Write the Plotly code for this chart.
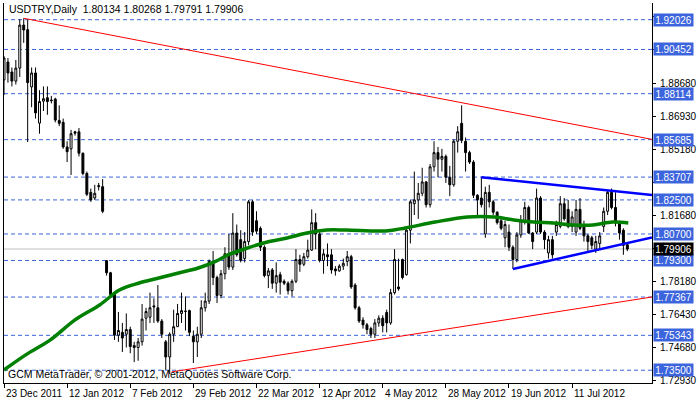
import plotly.graph_objects as go

opens = [1.8884,1.8979,1.8926,1.8878,1.8947,1.9174,1.9150,1.8847,1.8921,1.8656,
1.8772,1.8790,1.8778,1.8783,1.8670,1.8660,1.8530,1.8520,1.8610,1.8610,
1.8497,1.8390,1.8290,1.8260,1.8320,1.8320,1.7929,1.7865,1.7755,1.7535,
1.7550,1.7540,1.7565,1.7480,1.7470,1.7500,1.7625,1.7630,1.7690,1.7680,
1.7610,1.7500,1.7420,1.7540,1.7580,1.7650,1.7660,1.7665,1.7530,1.7500,
1.7540,1.7680,1.7715,1.7925,1.7840,1.7745,1.7860,1.7965,1.7895,1.8075,
1.8040,1.7940,1.8030,1.8240,1.8140,1.8100,1.8000,1.7850,1.7880,1.7810,
1.7855,1.7820,1.7810,1.7770,1.7820,1.7935,1.7910,1.7950,1.7985,1.8130,
1.8070,1.7930,1.7960,1.7960,1.7885,1.7875,1.7900,1.7925,1.7950,1.7800,
1.7680,1.7615,1.7590,1.7570,1.7540,1.7600,1.7625,1.7655,1.7600,1.7760,
1.7790,1.7935,1.7855,1.8090,1.8230,1.8250,1.8285,1.8345,1.8225,1.8425,
1.8500,1.8465,1.8480,1.8370,1.8330,1.8560,1.8655,1.8560,1.8500,1.8450,
1.8275,1.8260,1.8070,1.8290,1.8240,1.8185,1.8140,1.8050,1.8080,1.8000,
1.7935,1.8065,1.8140,1.8210,1.8075,1.8080,1.8260,1.8080,1.7970,1.8040,
1.8080,1.8110,1.8230,1.8200,1.8110,1.8080,1.8200,1.8120,1.8060,1.8050,
1.7990,1.8020,1.8110,1.8190,1.8290,1.8210,1.8130,1.8090,1.80134]
highs = [1.9010,1.9000,1.8950,1.8990,1.9205,1.9210,1.9203,1.8950,1.8950,1.8830,
1.8850,1.8850,1.8800,1.8790,1.8750,1.8680,1.8560,1.8620,1.8615,1.8630,
1.8500,1.8400,1.8310,1.8330,1.8340,1.8360,1.7930,1.7870,1.7760,1.7658,
1.7600,1.7650,1.7580,1.7500,1.7520,1.7700,1.7680,1.7760,1.7730,1.7800,
1.7620,1.7510,1.7550,1.7670,1.7700,1.7760,1.7740,1.7670,1.7560,1.7580,
1.7720,1.7760,1.7935,1.7980,1.7850,1.7880,1.8000,1.8070,1.8180,1.8120,
1.8090,1.8080,1.8250,1.8250,1.8190,1.8110,1.8010,1.7890,1.7890,1.7920,
1.7870,1.7830,1.7820,1.7830,1.7990,1.7960,1.7970,1.8040,1.8200,1.8180,
1.8080,1.7990,1.8020,1.7990,1.7900,1.7910,1.7940,1.7980,1.7960,1.7810,
1.7690,1.7630,1.7600,1.7580,1.7620,1.7640,1.7640,1.7670,1.7780,1.7990,
1.7940,1.7940,1.8100,1.8250,1.8400,1.8340,1.8420,1.8350,1.8440,1.8560,
1.8530,1.8520,1.8490,1.8430,1.8570,1.8640,1.8750,1.8580,1.8510,1.8460,
1.8280,1.8370,1.8320,1.8330,1.8250,1.8190,1.8150,1.8140,1.8120,1.8010,
1.8080,1.8170,1.8240,1.8220,1.8080,1.8310,1.8270,1.8090,1.8060,1.8060,
1.8140,1.8270,1.8260,1.8250,1.8190,1.8250,1.8260,1.8140,1.8070,1.8060,
1.8060,1.8080,1.8210,1.8300,1.8310,1.8290,1.8140,1.8100,1.80268]
lows = [1.8805,1.8870,1.8850,1.8860,1.8900,1.9080,1.8556,1.8740,1.8680,1.8600,
1.8720,1.8700,1.8760,1.8660,1.8640,1.8520,1.8450,1.8382,1.8590,1.8480,
1.8380,1.8270,1.8240,1.8250,1.8300,1.8180,1.7850,1.7740,1.7510,1.7500,
1.7446,1.7470,1.7440,1.7393,1.7400,1.7480,1.7560,1.7600,1.7600,1.7600,
1.7520,1.7352,1.7330,1.7500,1.7580,1.7600,1.7560,1.7530,1.7388,1.7420,
1.7520,1.7660,1.7700,1.7800,1.7705,1.7730,1.7830,1.7880,1.7880,1.7950,
1.7920,1.7920,1.8010,1.8060,1.8070,1.7980,1.7840,1.7784,1.7780,1.7760,
1.7750,1.7800,1.7750,1.7740,1.7810,1.7870,1.7900,1.7940,1.7980,1.7990,
1.7920,1.7860,1.7900,1.7860,1.7850,1.7870,1.7880,1.7900,1.7780,1.7670,
1.7600,1.7570,1.7540,1.7520,1.7520,1.7580,1.7550,1.7550,1.7590,1.7750,
1.7770,1.7830,1.7850,1.8020,1.8170,1.8150,1.8270,1.8210,1.8210,1.8400,
1.8370,1.8400,1.8340,1.8270,1.8320,1.8500,1.8550,1.8400,1.8440,1.8260,
1.8165,1.8210,1.8050,1.8210,1.8170,1.8120,1.8090,1.8000,1.7980,1.7885,
1.7920,1.8050,1.8120,1.8070,1.7990,1.8070,1.8070,1.7990,1.7940,1.7940,
1.8060,1.8100,1.8140,1.8100,1.8080,1.8060,1.8090,1.8030,1.7980,1.7990,
1.7970,1.7990,1.8080,1.8170,1.8200,1.8110,1.8040,1.7960,1.79791]
closes = [1.9000,1.8921,1.8878,1.8947,1.9174,1.9148,1.8870,1.8921,1.8710,1.8770,
1.8785,1.8770,1.8775,1.8672,1.8655,1.8530,1.8505,1.8600,1.8603,1.8497,
1.8390,1.8280,1.8250,1.8285,1.8325,1.8190,1.7865,1.7750,1.7535,1.7560,
1.7520,1.7565,1.7475,1.7470,1.7500,1.7620,1.7660,1.7680,1.7685,1.7610,
1.7540,1.7420,1.7540,1.7580,1.7650,1.7665,1.7662,1.7550,1.7500,1.7540,
1.7680,1.7715,1.7925,1.7840,1.7745,1.7860,1.7965,1.7895,1.8075,1.7960,
1.7930,1.8030,1.8240,1.8080,1.8085,1.8000,1.7850,1.7875,1.7810,1.7850,
1.7815,1.7810,1.7770,1.7820,1.7935,1.7910,1.7950,1.7985,1.8130,1.8070,
1.7930,1.7965,1.7950,1.7880,1.7875,1.7900,1.7915,1.7950,1.7790,1.7680,
1.7610,1.7590,1.7565,1.7540,1.7600,1.7625,1.7585,1.7600,1.7760,1.7935,
1.7780,1.7840,1.8090,1.8240,1.8250,1.8285,1.8345,1.8225,1.8425,1.8500,
1.8465,1.8480,1.8370,1.8330,1.8560,1.8610,1.8565,1.8500,1.8450,1.8275,
1.8250,1.8225,1.8290,1.8240,1.8185,1.8130,1.8100,1.8120,1.8000,1.7935,
1.8065,1.8140,1.8210,1.8075,1.8030,1.8260,1.8080,1.8040,1.8040,1.7960,
1.8120,1.8230,1.8150,1.8110,1.8160,1.8200,1.8100,1.8060,1.8030,1.8010,
1.8030,1.8060,1.8190,1.8290,1.8210,1.8130,1.8075,1.8010,1.79906]

ma_idx = [0,5.5,11.75,18,24.25,29.25,34.25,39.25,44.25,49.25,53.75,56.75,61.75,66.75,
          71.75,76.75,81.75,86.75,96.75,101.75,109.25,117.5,124.25,129.25,134.25,
          139.25,144.25,149.25,154.25,158.25]
ma_val = [1.7351,1.7431,1.7510,1.7616,1.7695,1.7774,1.7811,1.7837,1.7864,1.7890,1.7927,
          1.7959,1.7996,1.8028,1.8049,1.8075,1.8091,1.8091,1.8086,1.8102,1.8133,1.8160,
          1.8160,1.8144,1.8133,1.8128,1.8118,1.8118,1.8133,1.8128]

red_hi_x = [5, 164.25]; red_hi_y = [1.9210, 1.8570]
red_lo_x = [42.5, 164.25]; red_lo_y = [1.7341, 1.7737]
blue_hi_x = [121, 164.25]; blue_hi_y = [1.8370, 1.8276]
blue_lo_x = [129, 164.25]; blue_lo_y = [1.7885, 1.8052]

levels = [1.92026,1.90452,1.88114,1.85685,1.83707,1.82500,1.80700,1.79300,1.77367,1.75343,1.73500]
current = 1.79906
tick_vals = [1.72930 + 0.0175*k for k in range(12)]
hidden_ticks = ["1.79930", "1.83430", "1.90430", "1.92180"]
date_idx = [0,16,32,48,64,80,96,112,128,144]
date_txt = ["23 Dec 2011","12 Jan 2012","7 Feb 2012","29 Feb 2012","22 Mar 2012",
            "12 Apr 2012","4 May 2012","28 May 2012","19 Jun 2012","11 Jul 2012"]

X0, X1 = 0, 164.25
Y0, Y1 = 1.72824, 1.92908
LC = "#3C64DC"
FONT = "Liberation Sans"

fig = go.Figure()
for lv in levels:
    fig.add_shape(type="line", x0=X0, x1=X1, y0=lv, y1=lv, xref="x", yref="y",
                  line=dict(color=LC, width=1, dash="4px,3px"), layer="below")
fig.add_shape(type="line", x0=X0, x1=X1, y0=current, y1=current,
              line=dict(color="#C0C0C0", width=1), layer="below")

fig.add_trace(go.Scatter(x=red_hi_x, y=red_hi_y, mode="lines", line=dict(color="red", width=1)))
fig.add_trace(go.Scatter(x=red_lo_x, y=red_lo_y, mode="lines", line=dict(color="red", width=1)))
fig.add_trace(go.Candlestick(x=list(range(len(opens))), open=opens, high=highs, low=lows, close=closes,
    increasing=dict(line=dict(color="black", width=1), fillcolor="white"),
    decreasing=dict(line=dict(color="black", width=1), fillcolor="black"),
    whiskerwidth=0, hoverinfo="skip"))
fig.add_trace(go.Scatter(x=ma_idx, y=ma_val, mode="lines", line=dict(color="#008000", width=3.5, shape="spline")))
fig.add_trace(go.Scatter(x=blue_hi_x, y=blue_hi_y, mode="lines", line=dict(color="#0000FF", width=2.5)))
fig.add_trace(go.Scatter(x=blue_lo_x, y=blue_lo_y, mode="lines", line=dict(color="#0000FF", width=2.5)))

ann = []
for lv in levels:
    ann.append(dict(x=1, xref="paper", y=lv, yref="y", xanchor="left", yanchor="middle", xshift=1,
                    text=f"{lv:.5f}", showarrow=False, bgcolor=LC, borderpad=0, width=39, height=12,
                    font=dict(color="white", size=10, family=FONT)))
ann.append(dict(x=1, xref="paper", y=current, yref="y", xanchor="left", yanchor="middle", xshift=1,
                text=f"{current:.5f}", showarrow=False, bgcolor="black", borderpad=0, width=39, height=12,
                font=dict(color="white", size=10, family=FONT)))
for di, dt in zip(date_idx, date_txt):
    ann.append(dict(x=di, xref="x", y=0, yref="paper", xanchor="left", yanchor="top", xshift=0, yshift=-3,
                    text=dt, showarrow=False, font=dict(color="black", size=10, family=FONT)))
ann.append(dict(x=0, xref="paper", y=1, yref="paper", xanchor="left", yanchor="top", xshift=3, yshift=2,
                text="USDTRY,Daily  1.80134 1.80268 1.79791 1.79906", showarrow=False,
                font=dict(color="black", size=10.5, family=FONT)))
ann.append(dict(x=0, xref="paper", y=0, yref="paper", xanchor="left", yanchor="bottom", xshift=2, yshift=1,
                text="GCM MetaTrader, © 2001-2012, MetaQuotes Software Corp.", showarrow=False,
                font=dict(color="black", size=10.5, family=FONT)))

tick_text = []
for v in tick_vals:
    s = f"{v:.5f}"
    tick_text.append("" if s in hidden_ticks else s)

fig.update_layout(
    width=700, height=402, margin=dict(l=3, r=40, t=3, b=19),
    paper_bgcolor="white", plot_bgcolor="white", showlegend=False,
    font=dict(family=FONT, size=10, color="black"),
    annotations=ann,
    xaxis=dict(range=[X0, X1], rangeslider=dict(visible=False), showgrid=False, zeroline=False,
               tickvals=date_idx, showticklabels=False, ticks="outside", ticklen=4, tickcolor="black",
               showline=True, linecolor="black", linewidth=1),
    yaxis=dict(range=[Y0, Y1], side="right", showgrid=False, zeroline=False,
               tickvals=tick_vals, ticktext=tick_text,
               ticks="outside", ticklen=3, tickcolor="black", ticklabelstandoff=2,
               showline=True, mirror=True, linecolor="black", linewidth=1, tickfont=dict(size=10)),
)
fig.write_html("out.html", config={"displayModeBar": False, "staticPlot": True})
with open("out.html", encoding="utf-8") as f:
    html = f.read()
html = html.replace("<body>", '<body style="margin:0;overflow:hidden">', 1)
with open("out.html", "w", encoding="utf-8") as f:
    f.write(html)
